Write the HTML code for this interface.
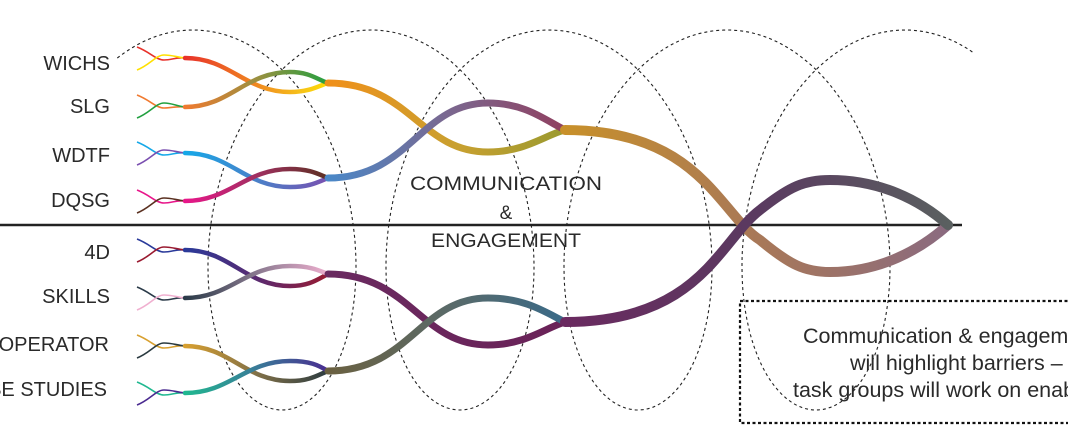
<!DOCTYPE html>
<html><head><meta charset="utf-8"><style>
html,body{margin:0;padding:0;background:#fff;overflow:hidden}
svg{display:block}
text{font-family:"Liberation Sans",sans-serif;fill:#2a2a2a}
</style></head><body>
<svg width="1068" height="444" viewBox="0 0 1068 444" xmlns="http://www.w3.org/2000/svg">
<defs>
<linearGradient id="g1" gradientUnits="userSpaceOnUse" x1="185" y1="0" x2="330" y2="0"><stop offset="0" stop-color="#e8312a"/><stop offset="0.5" stop-color="#f08a20"/><stop offset="0.8" stop-color="#f6c21a"/><stop offset="1" stop-color="#ffe000"/></linearGradient>
<linearGradient id="g2" gradientUnits="userSpaceOnUse" x1="185" y1="0" x2="330" y2="0"><stop offset="0" stop-color="#f07a30"/><stop offset="0.5" stop-color="#9a9040"/><stop offset="1" stop-color="#22a040"/></linearGradient>
<linearGradient id="g3" gradientUnits="userSpaceOnUse" x1="185" y1="0" x2="330" y2="0"><stop offset="0" stop-color="#15a8e8"/><stop offset="0.5" stop-color="#4a80c8"/><stop offset="1" stop-color="#7a4fb0"/></linearGradient>
<linearGradient id="g4" gradientUnits="userSpaceOnUse" x1="185" y1="0" x2="330" y2="0"><stop offset="0" stop-color="#e8168a"/><stop offset="0.5" stop-color="#a03060"/><stop offset="1" stop-color="#5a3020"/></linearGradient>
<linearGradient id="g5" gradientUnits="userSpaceOnUse" x1="185" y1="0" x2="330" y2="0"><stop offset="0" stop-color="#2a3a9a"/><stop offset="0.5" stop-color="#5a2a70"/><stop offset="1" stop-color="#9a1a30"/></linearGradient>
<linearGradient id="g6" gradientUnits="userSpaceOnUse" x1="185" y1="0" x2="330" y2="0"><stop offset="0" stop-color="#2a3a48"/><stop offset="0.5" stop-color="#8a7a90"/><stop offset="1" stop-color="#f0b0d0"/></linearGradient>
<linearGradient id="g7" gradientUnits="userSpaceOnUse" x1="185" y1="0" x2="330" y2="0"><stop offset="0" stop-color="#d8a030"/><stop offset="0.5" stop-color="#807048"/><stop offset="1" stop-color="#2a3a40"/></linearGradient>
<linearGradient id="g8" gradientUnits="userSpaceOnUse" x1="185" y1="0" x2="330" y2="0"><stop offset="0" stop-color="#20b890"/><stop offset="0.5" stop-color="#3a7a98"/><stop offset="1" stop-color="#4a2a90"/></linearGradient>
<linearGradient id="gA" gradientUnits="userSpaceOnUse" x1="328" y1="0" x2="565" y2="0"><stop offset="0" stop-color="#f0901a"/><stop offset="0.55" stop-color="#c8a030"/><stop offset="1" stop-color="#9a9a30"/></linearGradient>
<linearGradient id="gB" gradientUnits="userSpaceOnUse" x1="328" y1="0" x2="565" y2="0"><stop offset="0" stop-color="#4a88c8"/><stop offset="0.5" stop-color="#7a6890"/><stop offset="1" stop-color="#904060"/></linearGradient>
<linearGradient id="gC" gradientUnits="userSpaceOnUse" x1="328" y1="0" x2="565" y2="0"><stop offset="0" stop-color="#6a2a60"/><stop offset="1" stop-color="#6a2258"/></linearGradient>
<linearGradient id="gD" gradientUnits="userSpaceOnUse" x1="328" y1="0" x2="565" y2="0"><stop offset="0" stop-color="#6a6040"/><stop offset="0.5" stop-color="#5a6a68"/><stop offset="1" stop-color="#3a6a88"/></linearGradient>
<linearGradient id="gE" gradientUnits="userSpaceOnUse" x1="565" y1="0" x2="950" y2="0"><stop offset="0" stop-color="#c8902a"/><stop offset="0.5" stop-color="#a87858"/><stop offset="1" stop-color="#8a6a80"/></linearGradient>
<linearGradient id="gF" gradientUnits="userSpaceOnUse" x1="565" y1="0" x2="950" y2="0"><stop offset="0" stop-color="#6a2a60"/><stop offset="0.5" stop-color="#5a3a60"/><stop offset="1" stop-color="#5a6060"/></linearGradient>
</defs>

<path id="coil" fill="none" stroke="#222" stroke-width="1.1" stroke-dasharray="3,3" d=""/>

<line x1="0" y1="225" x2="962" y2="225" stroke="#222" stroke-width="2.5"/>

<g fill="none" stroke-width="1.6">
<path d="M137,47 C150,52 156,60 164,60 C172,60 176,57 185,58" stroke="#e8312a"/>
<path d="M137,70 C150,65 156,55 164,55 C172,55 176,57 185,58" stroke="#ffe000"/>
<path d="M137,95 C150,100 156,108 164,108 C172,108 176,106 185,107" stroke="#f07a30"/>
<path d="M137,118 C150,113 156,103 164,103 C172,103 176,106 185,107" stroke="#22a040"/>
<path d="M137,142 C150,147 156,155 164,155 C172,155 176,152 185,153" stroke="#15a8e8"/>
<path d="M137,165 C150,160 156,150 164,150 C172,150 176,152 185,153" stroke="#7a4fb0"/>
<path d="M137,190 C150,195 156,203 164,203 C172,203 176,200 185,201" stroke="#e8168a"/>
<path d="M137,213 C150,208 156,198 164,198 C172,198 176,200 185,201" stroke="#5a3020"/>
<path d="M137,239 C150,244 156,252 164,252 C172,252 176,249 185,250" stroke="#2a3a9a"/>
<path d="M137,262 C150,257 156,247 164,247 C172,247 176,249 185,250" stroke="#9a1a30"/>
<path d="M137,287 C150,292 156,300 164,300 C172,300 176,297 185,298" stroke="#2a3a48"/>
<path d="M137,310 C150,305 156,295 164,295 C172,295 176,297 185,298" stroke="#f0b0d0"/>
<path d="M137,335 C150,340 156,348 164,348 C172,348 176,345 185,346" stroke="#d8a030"/>
<path d="M137,358 C150,353 156,343 164,343 C172,343 176,345 185,346" stroke="#2a3a40"/>
<path d="M137,382 C150,387 156,395 164,395 C172,395 176,392 185,393" stroke="#20b890"/>
<path d="M137,405 C150,400 156,390 164,390 C172,390 176,392 185,393" stroke="#4a2a90"/>
</g>

<g fill="none" stroke-width="4.5" stroke-linecap="round">
<path d="M185,58 C230,58 245,92 290,92 C310,92 318,86 328,83" stroke="url(#g1)"/>
<path d="M185,107 C230,107 245,72 290,72 C310,72 318,80 328,83" stroke="url(#g2)"/>
<path d="M185,153 C230,153 245,187 290,187 C310,187 318,182 328,178" stroke="url(#g3)"/>
<path d="M185,201 C230,201 245,169 290,169 C310,169 318,174 328,178" stroke="url(#g4)"/>
<path d="M185,250 C230,250 245,286 290,286 C310,286 318,279 328,274" stroke="url(#g5)"/>
<path d="M185,298 C230,298 245,266 290,266 C310,266 318,270 328,274" stroke="url(#g6)"/>
<path d="M185,346 C230,346 245,381 290,381 C310,381 318,375 328,371" stroke="url(#g7)"/>
<path d="M185,393 C230,393 245,361 290,361 C310,361 318,365 328,371" stroke="url(#g8)"/>
</g>

<g fill="none" stroke-width="7" stroke-linecap="round">
<path d="M328,83 C410,83 420,152 488,152 C525,152 545,135 565,130" stroke="url(#gA)"/>
<path d="M328,178 C410,178 420,103 488,103 C525,103 545,120 565,130" stroke="url(#gB)"/>
<path d="M328,274 C410,274 420,345 488,345 C525,345 545,328 565,322" stroke="url(#gC)"/>
<path d="M328,371 C410,371 420,298 488,298 C525,298 545,312 565,322" stroke="url(#gD)"/>
</g>
<g fill="none" stroke-width="10" stroke-linecap="round">
<path d="M565,130 C700,130 720,215 760,240 C790,265 805,272 830,272 C880,272 920,250 948,225" stroke="url(#gE)"/>
<path d="M565,322 C700,322 720,240 760,210 C790,186 805,180 830,180 C880,180 920,200 948,225" stroke="url(#gF)"/>
</g>

<g font-size="20" text-anchor="end">
<text x="110" y="70">WICHS</text>
<text x="110" y="113">SLG</text>
<text x="110" y="162">WDTF</text>
<text x="110" y="207">DQSG</text>
<text x="110" y="259">4D</text>
<text x="110" y="303">SKILLS</text>
<text x="109" y="351">CO-OPERATOR</text>
<text x="107" y="396">CASE STUDIES</text>
</g>
<g font-size="19" text-anchor="middle">
<text x="506" y="190" textLength="192" lengthAdjust="spacingAndGlyphs">COMMUNICATION</text>
<text x="506" y="219">&amp;</text>
<text x="506" y="247" textLength="150" lengthAdjust="spacingAndGlyphs">ENGAGEMENT</text>
</g>

<rect x="740" y="301" width="340" height="122" fill="none" stroke="#111" stroke-width="2.2" stroke-dasharray="3,2.5"/>
<g font-size="21.5">
<text x="803" y="343">Communication &amp; engagement</text>
<text x="850" y="370">will highlight barriers –</text>
<text x="793" y="397">task groups will work on enablers</text>
</g>
</svg>
<script>
(function(){
var d="";var steps=900;var t0=-0.55,t1=8*Math.PI+0.5;
for(var i=0;i<=steps;i++){var t=t0+(t1-t0)*i/steps;
var x=193+178*t/(2*Math.PI)+115*Math.sin(t);var y=220-190*Math.cos(t);
d+=(i?"L":"M")+x.toFixed(1)+","+y.toFixed(1);}
document.getElementById("coil").setAttribute("d",d);
})();
</script>
</body></html>
